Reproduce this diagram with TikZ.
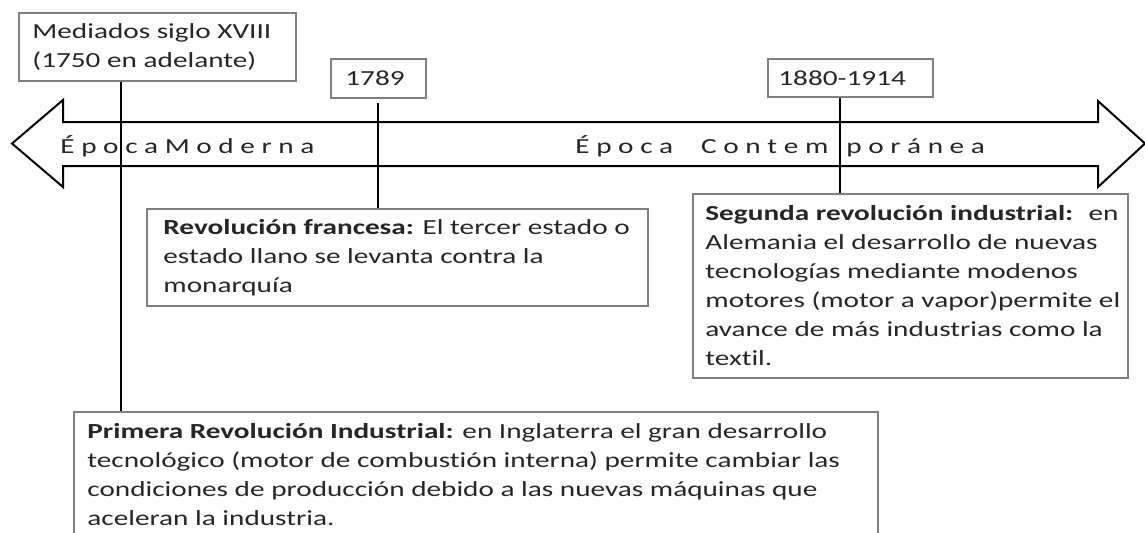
\documentclass[tikz,border=0pt]{standalone}
\usepackage{fontspec}
\setmainfont{Carlito}[FakeStretch=1.36, Ligatures=NoCommon]
\usetikzlibrary{positioning}
\definecolor{marco}{RGB}{128,128,128}
\definecolor{texto}{RGB}{38,38,38}
\newcommand{\letra}{\fontsize{10.75}{14.5}\selectfont}

\begin{document}
\begin{tikzpicture}[x=0.5pt,y=-0.5pt,
	caja/.style={draw=marco, line width=0.75pt, anchor=north west, inner sep=0pt},
	cuerpo/.style={align=left, inner sep=0pt, text=texto, font=\letra},
	epoca/.style={anchor=base west, inner sep=0pt, text=texto, font=\letra},
	linea/.style={line width=1pt}]
	\useasboundingbox (0,0) rectangle (1145,532);
	
	\draw[line width=1pt, fill=white] (12,143.5) -- (63,100) -- (63,122) -- (1098,122) -- (1098,101) -- (1145,143.5)
		-- (1098,187) -- (1098,166) -- (63,166) -- (63,187) -- cycle;
	\node[epoca] at (60,153) (moderna) {É p o c a M o d e r n a};
	\node[epoca] at (575,153) (contemp) {É p o c a\hspace{14pt}C o n t e m\hspace{9pt}p o r á n e a};
	
	\node[caja, minimum width=138.5pt, minimum height=34pt] at (18,12) (fecha1) {};
	\node[cuerpo, right=7pt of fecha1.west] (tfecha1) {Mediados siglo XVIII\\(1750 en adelante)};
	\node[caja, minimum width=47.5pt, minimum height=19.5pt] at (330,58) (fecha2) {};
	\node[cuerpo, right=7.5pt of fecha2.west] (tfecha2) {1789};
	\node[caja, minimum width=82.5pt, minimum height=19pt] at (767,58) (fecha3) {};
	\node[cuerpo, right=5.5pt of fecha3.west] (tfecha3) {1880-1914};
	
	\node[caja, minimum width=250.5pt, minimum height=48.5pt] at (146,208) (evento2) {};
	\node[cuerpo, right=8.5pt of evento2.west] (tevento2) {\textbf{Revolución francesa:} El tercer estado o\\estado llano se levanta contra la\\monarquía};
	\node[caja, minimum width=217.5pt, minimum height=92pt] at (692,193) (evento3) {};
	\node[cuerpo, right=6.5pt of evento3.west] (tevento3) {\textbf{Segunda revolución industrial:}~ en\\Alemania el desarrollo de nuevas\\tecnologías mediante modenos\\motores (motor a vapor)permite el\\avance de más industrias como la\\textil.};
	\node[caja, minimum width=402pt, minimum height=62.5pt] at (73,411) (evento1) {};
	\node[cuerpo, right=7pt of evento1.west] (tevento1) {\textbf{Primera Revolución Industrial:} en Inglaterra el gran desarrollo\\tecnológico (motor de combustión interna) permite cambiar las\\condiciones de producción debido a las nuevas máquinas que\\aceleran la industria.};
	
	\coordinate (x1) at (121,0);
	\coordinate (t2) at (378,103);
	\coordinate (x3) at (840,0);
	\draw[linea] (x1 |- fecha1.south) -- (x1 |- evento1.north);
	\draw[linea] (t2) -- (t2 |- evento2.north);
	\draw[linea] (x3 |- fecha3.south) -- (x3 |- evento3.north);
\end{tikzpicture}
\end{document}
